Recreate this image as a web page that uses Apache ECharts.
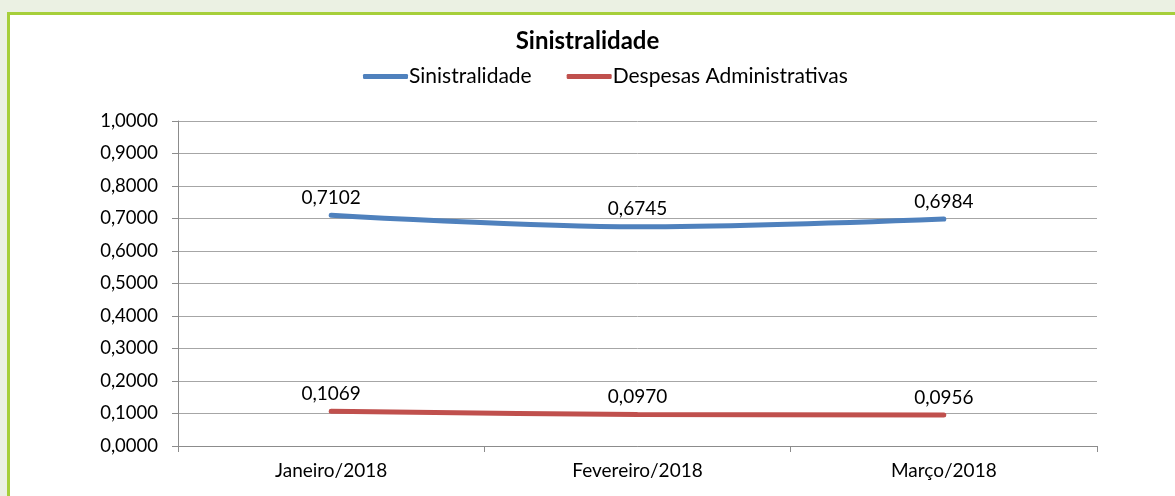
<!DOCTYPE html>
<html>
<head>
<meta charset="utf-8">
<script src="https://cdn.jsdelivr.net/npm/echarts@6/dist/echarts.min.js"></script>
<style>
  html, body { margin: 0; padding: 0; background: #ebf1e3; }
  #frame { position: absolute; left: 7px; top: 12px; width: 1168px; height: 484px;
           background: #fff; border-left: 3px solid #a6cf3a; border-top: 3px solid #a6cf3a; }
  #chart { position: absolute; left: 0; top: 0; width: 1175px; height: 496px; }
</style>
</head>
<body>
<div id="frame"></div>
<div id="chart"></div>
<script>
  var categories = ['Janeiro/2018', 'Fevereiro/2018', 'Março/2018'];
  var sinistralidade = [0.7102, 0.6745, 0.6984];
  var despesas = [0.1069, 0.0970, 0.0956];

  // número com vírgula decimal
  function fmt(v) {
    return Number(v).toFixed(4).replace('.', ',');
  }

  var myChart = echarts.init(document.getElementById('chart'));
  var option = {
    textStyle: { fontFamily: 'Lato' },
    title: {
      text: 'Sinistralidade',
      left: 'center',
      top: 24,
      textStyle: { fontSize: 24, fontWeight: 'bold', color: '#000', fontFamily: 'Lato' }
    },
    legend: {
      data: ['Sinistralidade', 'Despesas Administrativas'],
      top: 61,
      left: 358,
      icon: 'roundRect',
      itemWidth: 45,
      itemHeight: 5,
      itemGap: 35,
      textStyle: { fontSize: 21, color: '#000', fontFamily: 'Lato', padding: [0, 0, 0, -4] }
    },
    grid: { left: 178, right: 78, top: 121, bottom: 50 },
    xAxis: {
      type: 'category',
      data: categories,
      boundaryGap: true,
      axisLine: { lineStyle: { color: '#8c8c8c', width: 1 } },
      axisTick: { show: true, length: 6, lineStyle: { color: '#8c8c8c' } },
      axisLabel: { fontSize: 19, color: '#000', margin: 15, fontFamily: 'Lato' }
    },
    yAxis: {
      type: 'value',
      min: 0,
      max: 1,
      interval: 0.1,
      axisLine: { show: true, lineStyle: { color: '#8c8c8c' } },
      axisTick: { show: true, length: 6, lineStyle: { color: '#8c8c8c' } },
      splitLine: { lineStyle: { color: '#a6a6a6' } },
      axisLabel: { fontSize: 18.5, color: '#000', margin: 20, fontFamily: 'Lato', formatter: fmt }
    },
    series: [{
      name: 'Sinistralidade',
      type: 'line',
      data: sinistralidade,
      smooth: 0.35,
      symbol: 'circle',
      symbolSize: 0.1,
      showSymbol: true,
      lineStyle: { color: '#4f81bd', width: 5, cap: 'round' },
      itemStyle: { color: '#4f81bd' },
      label: { show: true, position: 'top', distance: 8, fontSize: 19, color: '#000', fontFamily: 'Lato', formatter: function (p) { return fmt(p.value); } }
    }, {
      name: 'Despesas Administrativas',
      type: 'line',
      data: despesas,
      smooth: 0.35,
      symbol: 'circle',
      symbolSize: 0.1,
      showSymbol: true,
      lineStyle: { color: '#c0504d', width: 5, cap: 'round' },
      itemStyle: { color: '#c0504d' },
      label: { show: true, position: 'top', distance: 8, fontSize: 19, color: '#000', fontFamily: 'Lato', formatter: function (p) { return fmt(p.value); } }
    }]
  };
  myChart.setOption(option);
</script>
</body>
</html>
